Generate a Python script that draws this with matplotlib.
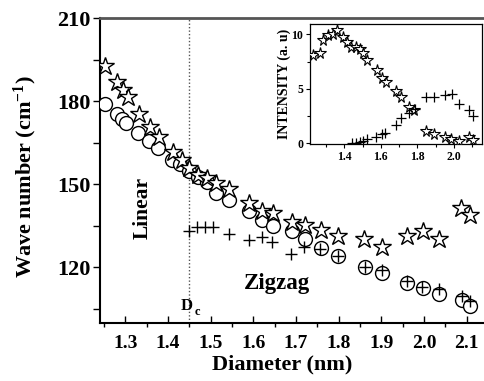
import matplotlib
matplotlib.use("Agg")
import matplotlib.pyplot as plt
from matplotlib.ticker import MultipleLocator

plt.rcParams['font.family'] = ['Liberation Serif', 'DejaVu Serif']
plt.rcParams['font.weight'] = 'bold'
plt.rcParams['mathtext.fontset'] = 'custom'
plt.rcParams['mathtext.rm'] = 'Liberation Serif:bold'
plt.rcParams['mathtext.it'] = 'Liberation Serif:bold'
plt.rcParams['mathtext.bf'] = 'Liberation Serif:bold'

# ---- main panel data ----
star_d = [1.252, 1.281, 1.295, 1.306, 1.333, 1.358, 1.380, 1.412, 1.432, 1.450,
          1.471, 1.492, 1.513, 1.544, 1.591, 1.621, 1.646, 1.690, 1.721, 1.758,
          1.798, 1.860, 1.901, 1.960, 1.997, 2.034, 2.087, 2.107]
star_w = [192.9, 186.9, 184.1, 181.4, 175.3, 170.6, 167.2, 161.8, 158.8, 155.8,
          153.4, 152.2, 150.4, 148.2, 143.4, 140.5, 139.5, 136.5, 135.3, 133.5,
          131.3, 130.1, 127.3, 131.2, 133.2, 130.1, 141.3, 139.0]

circ_d = [1.252, 1.281, 1.292, 1.302, 1.330, 1.356, 1.377, 1.409, 1.428, 1.450,
          1.471, 1.491, 1.513, 1.544, 1.591, 1.620, 1.646, 1.690, 1.721, 1.758,
          1.799, 1.861, 1.901, 1.960, 1.997, 2.035, 2.088, 2.107]
circ_w = [179.0, 175.3, 173.5, 172.1, 168.4, 165.8, 163.0, 158.8, 157.3, 155.0,
          152.8, 150.9, 147.0, 144.3, 140.2, 137.1, 135.0, 133.0, 130.1, 126.9,
          124.1, 120.1, 117.9, 114.2, 112.6, 110.5, 108.3, 105.9]

cross_d = [1.450, 1.467, 1.487, 1.506, 1.544, 1.591, 1.620, 1.644, 1.688, 1.719,
           1.757, 1.798, 1.861, 1.901, 1.959, 1.996, 2.035, 2.088, 2.108]
cross_w = [133.2, 134.7, 134.7, 134.7, 132.0, 130.0, 131.0, 129.3, 124.9, 127.2,
           126.8, 124.1, 120.1, 119.0, 115.0, 112.8, 112.1, 109.7, 107.8]

# ---- inset data ----
in_star_d = [1.228, 1.268, 1.282, 1.313, 1.337, 1.359, 1.391, 1.413, 1.435, 1.464,
             1.486, 1.504, 1.526, 1.577, 1.609, 1.627, 1.683, 1.709, 1.756, 1.783,
             1.849, 1.889, 1.949, 1.985, 2.027, 2.081, 2.103]
in_star_i = [8.08, 8.32, 9.45, 9.91, 10.06, 10.37, 9.75, 9.30, 8.84, 8.84,
             8.69, 8.32, 7.62, 6.71, 6.04, 5.64, 4.80, 4.23, 3.37, 3.06,
             1.18, 0.88, 0.55, 0.45, 0.18, 0.55, 0.33]
in_cross_d = [1.440, 1.464, 1.486, 1.504, 1.526, 1.571, 1.607, 1.625, 1.683, 1.710,
              1.756, 1.785, 1.849, 1.889, 1.949, 1.990, 2.027, 2.081, 2.103]
in_cross_i = [0.00, 0.05, 0.15, 0.24, 0.37, 0.60, 0.85, 0.97, 1.70, 2.29,
              2.77, 3.12, 4.26, 4.26, 4.42, 4.50, 3.66, 3.08, 2.50]

fig = plt.figure(figsize=(4.84, 3.81), dpi=100)
ax = fig.add_axes([100/484, 1-322.7/381, (484-100)/484, (322.7-18.3)/381])

ax.plot(circ_d, circ_w, 'o', ms=10, mfc='white', mec='black', mew=1.0, zorder=3)
ax.plot(star_d, star_w, '*', ms=13.5, mfc='white', mec='black', mew=1.0, zorder=4)
ax.plot(cross_d, cross_w, '+', ms=9, color='black', mew=1.0, zorder=5)

ax.axvline(1.45, color='#555555', ls=(0, (1, 1.5)), lw=1.0, zorder=1)

ax.set_xlim(1.2407, 2.1405)
ax.set_ylim(100, 210)
ax.xaxis.set_minor_locator(MultipleLocator(0.05))
ax.yaxis.set_minor_locator(MultipleLocator(15))
ax.set_xticks([1.3, 1.4, 1.5, 1.6, 1.7, 1.8, 1.9, 2.0, 2.1])
ax.set_xticklabels(['1.3', '1.4', '1.5', '1.6', '1.7', '1.8', '1.9', '2.0', '2.1'])
ax.set_yticks([120, 150, 180, 210])
ax.tick_params(axis='x', which='major', direction='in', length=5, width=1, labelsize=14, pad=9)
ax.tick_params(axis='x', which='minor', direction='out', length=3, width=1)
ax.tick_params(axis='y', which='both', direction='out', length=5, width=1, labelsize=16, pad=2)
for lab in ax.get_xticklabels() + ax.get_yticklabels():
    lab.set_fontweight('bold')

ax.spines['right'].set_visible(False)
ax.spines['top'].set_color('#555555')
ax.spines['top'].set_linewidth(2.0)
ax.spines['left'].set_linewidth(1.5)
ax.spines['bottom'].set_linewidth(1.5)

fig.text(25/484, 1-177/381, r'Wave number (cm$^{\mathrm{-1}}$)', rotation=90,
         ha='center', va='center', fontsize=16, fontweight='bold')
fig.text(282/484, 1-364/381, 'Diameter (nm)', ha='center', va='center',
         fontsize=16, fontweight='bold')

ax.text(1.340, 141.4, 'Linear', rotation=90, ha='center', va='center',
        fontsize=15.5, fontweight='bold')
ax.text(1.655, 114.3, 'Zigzag', ha='center', va='center', fontsize=16.5, fontweight='bold')
ax.text(1.4446, 106.0, 'D', ha='center', va='center', fontsize=12, fontweight='bold')
ax.text(1.4695, 103.9, 'c', ha='center', va='center', fontsize=9, fontweight='bold')

# ---- inset ----
ins = fig.add_axes([310/484, 1-144/381, (481.7-310)/484, (144-24)/381])
ins.plot(in_star_d, in_star_i, '*', ms=8.5, mfc='white', mec='black', mew=0.8, zorder=3)
ins.plot(in_cross_d, in_cross_i, '+', ms=7, color='black', mew=0.9, zorder=4)
ins.set_xlim(1.213, 2.151)
ins.set_ylim(-0.05, 10.95)
ins.xaxis.set_major_locator(MultipleLocator(0.2))
ins.xaxis.set_minor_locator(MultipleLocator(0.1))
ins.yaxis.set_major_locator(MultipleLocator(5))
ins.yaxis.set_minor_locator(MultipleLocator(2.5))
ins.tick_params(which='major', direction='out', length=3, width=0.8, labelsize=8.5, pad=2)
ins.tick_params(which='minor', direction='out', length=2, width=0.8)
for lab in ins.get_xticklabels() + ins.get_yticklabels():
    lab.set_fontweight('bold')
for s in ins.spines.values():
    s.set_linewidth(0.9)
ins.text(-0.15, 0.50, 'INTENSITY (a. u)', transform=ins.transAxes, rotation=90,
         ha='center', va='center', fontsize=10, fontweight='bold')

fig.savefig('out.png', dpi=100)
